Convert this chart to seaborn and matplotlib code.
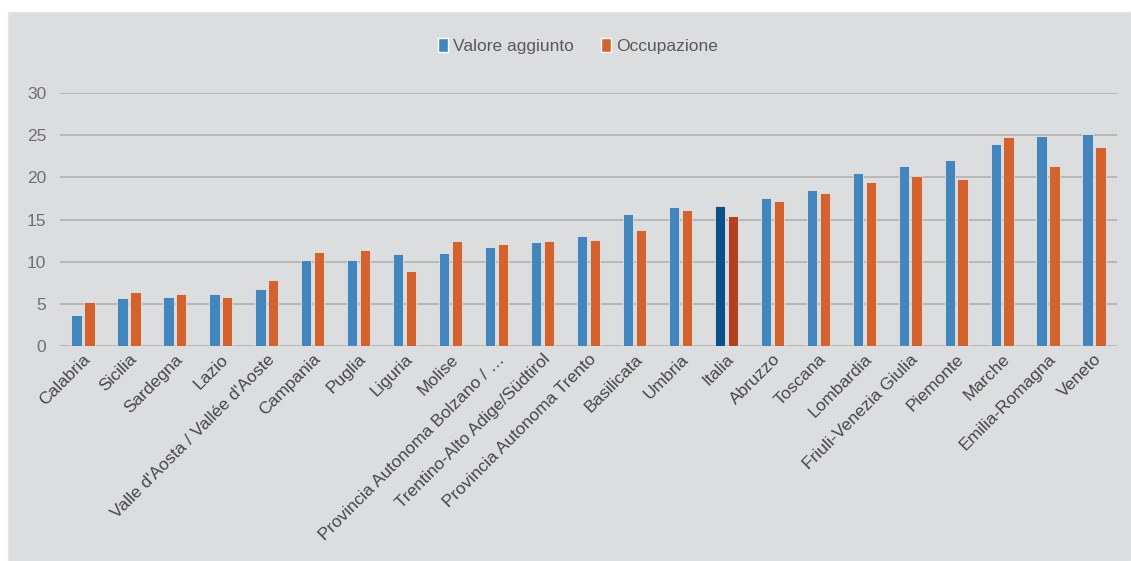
import numpy as np
import pandas as pd
import seaborn as sns
import matplotlib.pyplot as plt
from matplotlib.patches import Rectangle, Patch

regioni = ["Calabria", "Sicilia", "Sardegna", "Lazio", "Valle d'Aosta / Vallée d'Aoste",
           "Campania", "Puglia", "Liguria", "Molise", "Provincia Autonoma Bolzano / …",
           "Trentino-Alto Adige/Südtirol", "Provincia Autonoma Trento", "Basilicata",
           "Umbria", "Italia", "Abruzzo", "Toscana", "Lombardia", "Friuli-Venezia Giulia",
           "Piemonte", "Marche", "Emilia-Romagna", "Veneto"]
valore_aggiunto = [3.7, 5.75, 5.8, 6.2, 6.8, 10.15, 10.25, 10.85, 11.0, 11.75, 12.3, 13.0,
                   15.7, 16.5, 16.65, 17.6, 18.5, 20.55, 21.4, 22.0, 23.9, 24.9, 25.15]
occupazione = [5.2, 6.45, 6.2, 5.85, 7.85, 11.1, 11.35, 8.9, 12.5, 12.15, 12.4, 12.6,
               13.75, 16.15, 15.45, 17.2, 18.2, 19.5, 20.2, 19.8, 24.75, 21.4, 23.6]
serie = ["Valore aggiunto", "Occupazione"]

df = pd.DataFrame({"regione": regioni * 2,
                   "serie": [serie[0]] * len(regioni) + [serie[1]] * len(regioni),
                   "valore": valore_aggiunto + occupazione})

blu, arancio = "#4286BD", "#D3622F"
blu_scuro, arancio_scuro = "#0B5087", "#B44021"
sfondo = "#DCDDDF"

sns.set_style("white")
plt.rcParams["font.family"] = ["Liberation Sans", "DejaVu Sans"]

fig = plt.figure(figsize=(11.31, 5.61), dpi=100, facecolor="white")
fig.patches.append(Rectangle((8 / 1131, 0), 1 - 8 / 1131, 1 - 12 / 561,
                             transform=fig.transFigure, facecolor=sfondo,
                             edgecolor="#E6E6E6", lw=1, zorder=-10))
ax = fig.add_axes([60 / 1131, 1 - 346 / 561, 1057 / 1131, 253 / 561])
ax.set_facecolor("none")

sns.barplot(data=df, x="regione", y="valore", hue="serie", palette=[blu, arancio],
            saturation=1, width=0.56, gap=0.2, ax=ax, legend=False,
            edgecolor="#E4E4E4", linewidth=0.6)

i_ita = regioni.index("Italia")
ax.containers[0][i_ita].set_facecolor(blu_scuro)
ax.containers[1][i_ita].set_facecolor(arancio_scuro)

ax.set_ylim(0, 30)
ax.set_xlim(-0.5, len(regioni) - 0.5)
ax.set_yticks(range(0, 31, 5))
ax.yaxis.grid(True, color="#B5B5B5", lw=1.3)
ax.set_axisbelow(True)
for s in ax.spines.values():
    s.set_visible(False)
ax.set_xlabel("")
ax.set_ylabel("")
ax.tick_params(axis="y", length=0, labelsize=12.5, labelcolor="#707070", pad=10)
ax.tick_params(axis="x", length=0, labelsize=12.5, labelcolor="#474747", pad=4)
plt.setp(ax.get_xticklabels(), rotation=45, ha="right", rotation_mode="anchor")

handles = [Patch(facecolor=blu), Patch(facecolor=arancio)]
fig.legend(handles, serie, loc="center", bbox_to_anchor=(578 / 1131, 1 - 46 / 561), ncol=2,
           frameon=False, fontsize=12.5, labelcolor="#595959", handlelength=0.55,
           handleheight=0.85, handletextpad=0.3, columnspacing=1.6)

fig.savefig("out.png", dpi=100, facecolor="white")
